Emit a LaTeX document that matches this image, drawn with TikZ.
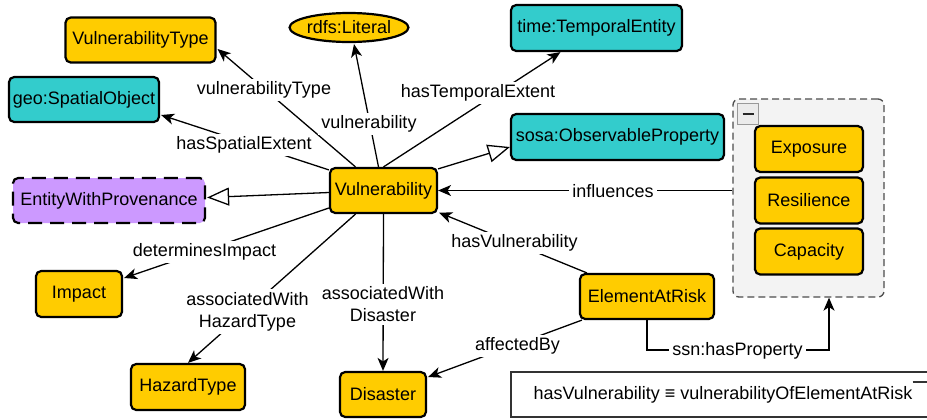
\documentclass[tikz,border=0pt]{standalone}
\usepackage{fontspec}
\setmainfont{Liberation Sans}
\usetikzlibrary{arrows.meta,shapes.geometric,calc}
\definecolor{clsyellow}{HTML}{FFCC00}
\definecolor{extteal}{HTML}{33CCCC}
\definecolor{provpurple}{HTML}{CC99FF}
\definecolor{groupfill}{HTML}{F3F3F3}
\definecolor{groupline}{HTML}{4D4D4D}
\begin{document}
\begin{tikzpicture}[x=0.5pt,y=-0.5pt,
  font=\fontsize{9pt}{11pt}\selectfont,
  cls/.style={draw=black, line width=1.1pt, rounded corners=2.6pt, fill=clsyellow,
    minimum height=22.5pt, inner sep=0pt, align=center},
  ext/.style={cls, fill=extteal},
  prov/.style={cls, fill=provpurple, dash pattern=on 7pt off 4pt},
  lit/.style={ellipse, draw=black, line width=1.1pt, fill=clsyellow,
    minimum width=54pt, minimum height=14.5pt, inner sep=0pt},
  rel/.style={line width=0.65pt, -{Stealth[length=6.5pt,width=5.5pt,inset=1.8pt]}},
  sub/.style={line width=0.65pt, -{Triangle[length=11pt,width=9pt,fill=white,line width=0.65pt]}},
  lbl/.style={fill=white, inner sep=1.5pt, align=center},
  grp/.style={draw=groupline, fill=groupfill, line width=0.65pt, dash pattern=on 3.5pt off 2pt,
    rounded corners=3pt, inner sep=0pt}
]
\useasboundingbox (0,0) rectangle (927,419);

% classes
\node[cls, minimum width=75pt] (vtype) at (140.5,40) {VulnerabilityType};
\node[lit] (literal) at (349,27.5) {rdfs:Literal};
\node[ext, minimum width=85.5pt, minimum height=23pt] (temporal) at (596.5,28) {time:TemporalEntity};
\node[ext, minimum width=75pt] (spatial) at (84,99.5) {geo:SpatialObject};
\node[ext, minimum width=106.5pt, minimum height=23pt] (obsprop) at (617.5,137) {sosa:ObservableProperty};
\node[prov, minimum width=96pt] (prov) at (109,200.5) {EntityWithProvenance};
\node[cls, minimum width=53.5pt] (vul) at (383.5,190.5) {Vulnerability};
\node[cls, minimum width=43pt, minimum height=23pt] (impact) at (79,294) {Impact};
\node[cls, minimum width=57pt, minimum height=23pt] (hazard) at (188,387) {HazardType};
\node[cls, minimum width=43pt] (disaster) at (383,394.5) {Disaster};
\node[cls, minimum width=67pt] (ear) at (647,296.5) {ElementAtRisk};

% group of vulnerability factors
\node[grp, minimum width=75.5pt, minimum height=99pt] (group) at (808.5,198) {};
\node[draw=black!40, fill=black!8, line width=0.5pt, minimum size=10.5pt, inner sep=0pt] (collapse) at (748,114) {};
\draw[line width=1.3pt, black!85] ($(collapse.center)+(-5.5,0)$) -- ($(collapse.center)+(5.5,0)$);
\node[cls, minimum width=54pt, minimum height=23pt] (exposure) at (809,149) {Exposure};
\node[cls, minimum width=54pt, minimum height=23pt] (resilience) at (809,200.5) {Resilience};
\node[cls, minimum width=54pt, minimum height=23pt] (capacity) at (809,251.5) {Capacity};

% property note
\node[draw=black!80, line width=0.6pt, minimum width=212pt, minimum height=22.5pt, inner sep=0pt]
  (note) at (723,394.5) {hasVulnerability ≡ vulnerabilityOfElementAtRisk};
\draw[line width=1pt, black!80] ($(note.north east)+(-23,11)$) -- ($(note.north east)+(8,11)$);

% relations
\draw[rel] ($(vul.north)+(-28,0)$) -- ($(vtype.east)+(1,9)$)
  node[lbl] at (264,90) {vulnerabilityType};
\draw[rel] ($(vul.north)+(-5,0)$) -- ($(literal.south)+(5,1)$)
  node[lbl] at (369,124) {vulnerability};
\draw[rel] (vul.north) -- ($(temporal.south)+(-36,0)$)
  node[lbl] at (478,93) {hasTemporalExtent};
\draw[rel] ($(vul.north west)+(0,3)$) -- ($(spatial.east)+(1,15.5)$)
  node[lbl] at (244,145) {hasSpatialExtent};
\draw[sub] ($(vul.north east)+(0,2)$) -- ($(obsprop.west)+(0,10)$);
\draw[sub] ($(vul.west)+(0,2)$) -- ($(prov.east)+(1,-3)$);
\draw[rel] (group.west |- vul.east) -- (vul.east)
  node[lbl] at (613,191) {influences};
\draw[rel] ($(vul.west)+(0,17.5)$) -- ($(impact.east)+(1,-16)$)
  node[lbl] at (204.5,252) {determinesImpact};
\draw[rel] ($(vul.south)+(-28,0)$) -- (hazard.north)
  node[lbl] at (247.5,311.5) {associatedWith\\HazardType};
\draw[rel] (vul.south) -- (disaster.north)
  node[lbl] at (383,304.5) {associatedWith\\Disaster};
\draw[rel] ($(ear.north west)+(8,0)$) -- ($(vul.south east)+(1,-1.5)$)
  node[lbl] at (514.5,243) {hasVulnerability};
\draw[rel] ($(ear.south west)+(3,0)$) -- ($(disaster.east)+(1,-17.5)$)
  node[lbl] at (517.5,346) {affectedBy};
\coordinate (bend) at (829,350);
\draw[rel] (ear.south) |- (bend) -- (bend |- group.south)
  node[lbl] at (737.5,351) {ssn:hasProperty};
\end{tikzpicture}
\end{document}
